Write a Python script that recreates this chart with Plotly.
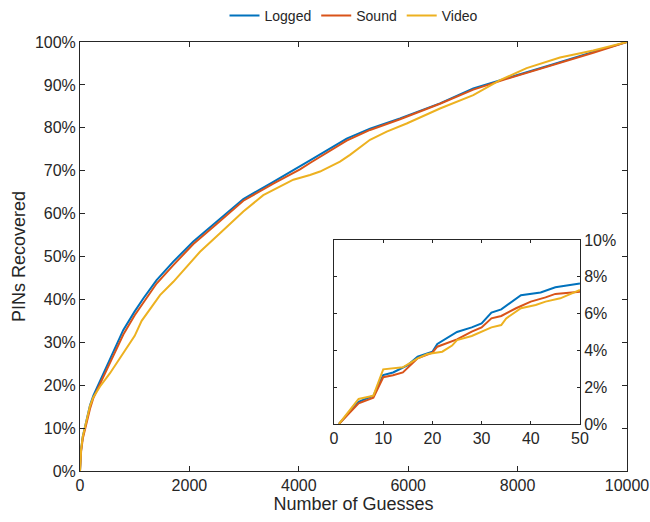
import plotly.graph_objects as go

# Cumulative fraction of PINs recovered vs. number of guesses (full range)
guesses_logged = [0, 20, 50, 91, 183, 244, 426, 600, 792, 1000, 1157, 1400, 1706, 2072,
                  2498, 2986, 3534, 4022, 4205, 4875, 5302, 5850, 6581, 7190, 7800, 8592,
                  9384, 10000]
logged = [0, 5.0, 8.0, 10.3, 15.3, 17.6, 22.8, 27.5, 32.9, 37.2, 40.2, 44.5, 48.8, 53.5,
          58.1, 63.4, 67.4, 70.9, 72.4, 77.5, 79.8, 82.2, 85.7, 89.2, 91.5, 94.6,
          97.7, 100]

guesses_sound = guesses_logged
sound = [0, 4.5, 7.5, 9.8, 14.5, 17.0, 22.0, 26.5, 31.8, 36.3, 39.3, 43.7, 48.0, 52.9,
         57.6, 63.0, 67.0, 70.3, 71.8, 77.0, 79.5, 82.0, 85.6, 88.9, 91.4, 94.4,
         97.5, 100]

guesses_video = [0, 20, 50, 91, 183, 244, 366, 548, 700, 853, 1000, 1127, 1300, 1463, 1706,
                 1950, 2194, 2559, 2742, 2986, 3351, 3900, 4205, 4388, 4753, 4936, 5302,
                 5607, 5972, 6581, 7190, 7678, 8165, 8775, 9384, 10000]
video = [0, 5.0, 8.0, 10.3, 15.2, 17.2, 19.7, 22.8, 25.8, 28.6, 31.5, 35.0, 38.0, 41.0, 44.1,
         47.5, 51.1, 55.4, 57.6, 60.5, 64.3, 67.9, 69.0, 69.8, 72.1, 73.7, 77.2,
         79.1, 81.0, 84.5, 87.6, 91.1, 93.9, 96.4, 98.0, 100]

# First 50 guesses (inset)
inset_logged_x = [1, 5, 8, 10, 12, 15, 17, 20, 21, 25, 28, 30, 32, 34, 38, 42, 45, 50]
inset_logged = [0, 1.21, 1.54, 2.66, 2.8, 3.2, 3.66, 3.93, 4.35, 5.0, 5.25, 5.47, 6.05,
                6.23, 7.0, 7.15, 7.43, 7.64]
inset_sound_x = [1, 5, 8, 10, 12, 14, 17, 20, 21, 24, 25, 28, 30, 32, 34, 37, 40, 43, 45, 50]
inset_sound = [0, 1.12, 1.43, 2.54, 2.65, 2.8, 3.57, 3.88, 4.2, 4.47, 4.6, 5.02, 5.25,
               5.74, 5.87, 6.29, 6.65, 6.88, 7.07, 7.19]
inset_video_x = [1, 5, 8, 10, 14, 17, 19, 22, 24, 25, 28, 30, 32, 34, 35, 38, 41, 43, 46, 50]
inset_video = [0, 1.36, 1.54, 2.97, 3.08, 3.57, 3.8, 3.93, 4.26, 4.56, 4.78, 5.02, 5.25,
               5.38, 5.74, 6.29, 6.47, 6.65, 6.83, 7.28]

series_names = ["Logged", "Sound", "Video"]
colors = ["#0072BD", "#D95319", "#EDB120"]
axis_color = "#262626"
font_family = "Liberation Sans, Arial, Helvetica, sans-serif"

fig = go.Figure()

main_data = [(guesses_logged, logged), (guesses_sound, sound), (guesses_video, video)]
for name, color, (xs, ys) in zip(series_names, colors, main_data):
    fig.add_trace(go.Scatter(
        x=xs, y=[v / 100 for v in ys], mode="lines", name=name,
        line=dict(color=color, width=2), xaxis="x", yaxis="y"))

inset_data = [(inset_logged_x, inset_logged), (inset_sound_x, inset_sound),
              (inset_video_x, inset_video)]
for name, color, (xs, ys) in zip(series_names, colors, inset_data):
    fig.add_trace(go.Scatter(
        x=xs, y=[v / 100 for v in ys], mode="lines", name=name, showlegend=False,
        line=dict(color=color, width=2), xaxis="x2", yaxis="y2"))

common_axis = dict(showline=True, linecolor=axis_color, linewidth=1, mirror="ticks",
                   ticks="inside", tickcolor=axis_color, showgrid=False, zeroline=False,
                   automargin=False,
                   tickfont=dict(size=16, color=axis_color, family=font_family))

fig.update_layout(
    width=650, height=522,
    margin=dict(l=80, r=23, t=42, b=51, autoexpand=False),
    paper_bgcolor="white", plot_bgcolor="white",
    font=dict(family=font_family, color=axis_color),
    legend=dict(orientation="h", x=0.5, xanchor="center", y=1.0, yanchor="top",
                yref="container", font=dict(size=14, color=axis_color),
                itemwidth=30, tracegroupgap=0),
    xaxis=dict(domain=[0, 1], range=[0, 10000], tickvals=[0, 2000, 4000, 6000, 8000, 10000],
               tickformat="d", ticklen=5,
               title=dict(text="Number of Guesses", font=dict(size=18), standoff=2),
               **common_axis),
    yaxis=dict(domain=[0, 1], range=[0, 1], dtick=0.1, tickformat=".0%", ticklen=5,
               title=dict(text="PINs Recovered", font=dict(size=18), standoff=4),
               **common_axis),
    xaxis2=dict(domain=[0.4644, 0.914], range=[0, 50], dtick=10, ticklen=3,
                anchor="y2", **common_axis),
    yaxis2=dict(domain=[0.1096, 0.5385], range=[0, 0.1], dtick=0.02, tickformat=".0%",
                ticklen=3, side="right", anchor="x2", **common_axis),
)

fig.write_html("out.html")
